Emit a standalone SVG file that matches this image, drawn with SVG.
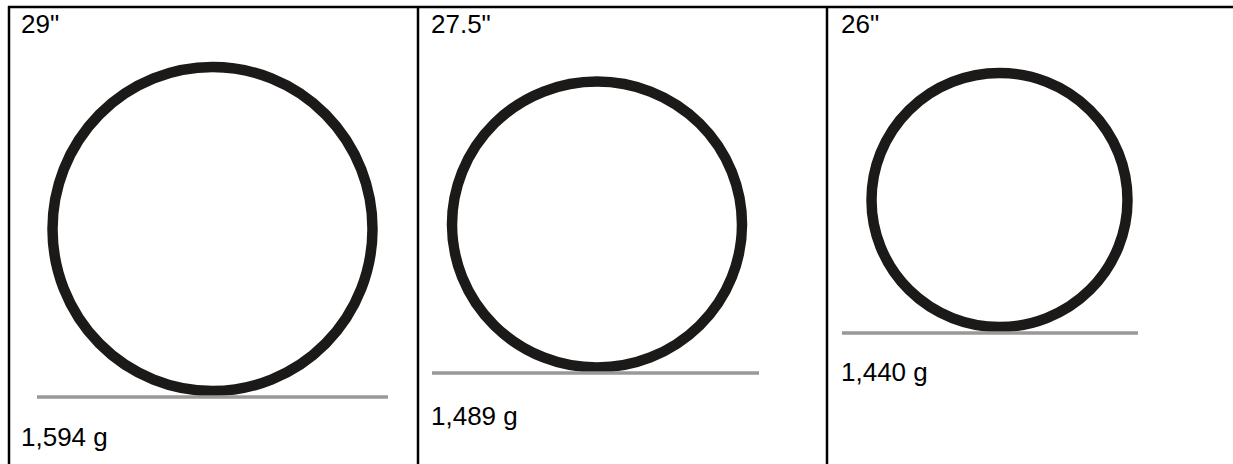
<svg xmlns="http://www.w3.org/2000/svg" width="1233" height="464" viewBox="0 0 1233 464">
<style>
.border{stroke:#000;stroke-width:2.5;fill:none}
.wheel{fill:none;stroke:#1c1919;stroke-width:10.5}
.ground{stroke:#999;stroke-width:3.5}
text{font-family:"Liberation Sans",Arial,sans-serif;font-size:26px;fill:#000}
</style>
<rect width="1233" height="464" fill="#fff"/>
<g id="table">
<line class="border" x1="8" y1="7" x2="1233" y2="7"/>
<line class="border" x1="9" y1="6" x2="9" y2="464"/>
<line class="border" x1="418" y1="6" x2="418" y2="464"/>
<line class="border" x1="827" y1="6" x2="827" y2="464"/>
</g>
<g id="cell-29">
<text x="21" y="33">29"</text>
<ellipse class="wheel" cx="212.5" cy="229" rx="160" ry="162"/>
<line class="ground" x1="37" y1="397" x2="388" y2="397"/>
<text x="21" y="446">1,594 g</text>
</g>
<g id="cell-27-5">
<text x="431" y="33">27.5"</text>
<ellipse class="wheel" cx="597" cy="224.5" rx="145" ry="143"/>
<line class="ground" x1="432" y1="373" x2="759" y2="373"/>
<text x="431" y="425">1,489 g</text>
</g>
<g id="cell-26">
<text x="841" y="33">26"</text>
<ellipse class="wheel" cx="999.5" cy="200" rx="128" ry="127"/>
<line class="ground" x1="842" y1="333" x2="1138" y2="333"/>
<text x="841" y="381">1,440 g</text>
</g>
</svg>
